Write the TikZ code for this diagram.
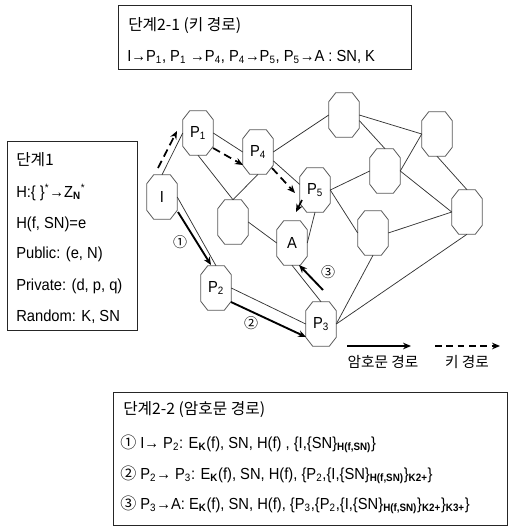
\documentclass[tikz,border=0pt]{standalone}
\usepackage{fontspec}
\setmainfont{Liberation Sans}[FakeStretch=0.92]
\newfontfamily\kr{Noto Sans CJK KR}
\usetikzlibrary{arrows.meta,calc}
\newcommand{\sbb}[1]{\textsubscript{\textbf{#1}}}
\newcommand{\sbn}[1]{\textsubscript{#1}}
\newcommand{\octo}[1]{\draw[octline] ($(#1.north west)+(7,0)$) -- ($(#1.north east)+(-7,0)$) -- ($(#1.north east)+(0,9)$) -- ($(#1.south east)+(0,-9)$) -- ($(#1.south east)+(-7,0)$) -- ($(#1.south west)+(7,0)$) -- ($(#1.south west)+(0,-9)$) -- ($(#1.north west)+(0,9)$) -- cycle;}
\begin{document}
\begin{tikzpicture}[x=0.75pt,y=-0.75pt,
  txt/.style={anchor=base west,inner sep=0pt,font=\fontsize{12}{14}\selectfont},
  krtxt/.style={anchor=base west,inner sep=0pt,font=\kr\fontsize{11.8}{14}\selectfont},
  oct/.style={rectangle,minimum width=22.5pt,minimum height=33pt,inner sep=0pt,font=\fontsize{12}{14}\selectfont},
  octline/.style={draw=black!65,line width=0.6pt,line join=round},
  edge/.style={draw=black!80,line width=0.55pt},
  boxline/.style={draw=black!85,line width=0.7pt},
  keyarrow/.style={line width=1.3pt,dash pattern=on 6pt off 3.6pt,-{Stealth[length=6pt,width=5pt]}},
  cipharrow/.style={line width=1.4pt,-{Stealth[length=6pt,width=5pt]}},
  circnum/.style={inner sep=0pt,font=\kr\fontsize{10.5}{12}\selectfont}
]
\useasboundingbox (0,0) rectangle (510,526);

% ---- boxes
\draw[boxline] (118,5) rectangle (411,69);
\draw[boxline] (7,141) rectangle (137,330);
\draw[boxline] (113,392) rectangle (507,525);

% ---- top box text
\node[krtxt] (t21) at (128,30) {단계2-1 (키 경로)};
\node[txt] (t21a) at (127,61) {I→P\sbn{1}, P\sbn{1} →P\sbn{4}, P\sbn{4}→P\sbn{5}, P\sbn{5}→A : SN, K};

% ---- left box text
\node[krtxt] (s1) at (16,165) {단계1};
\node[txt] (s1a) at (16,197) {H:\{ \}\textsuperscript{*}→Z\sbb{N}\textsuperscript{*}};
\node[txt] (s1b) at (16,228) {H(f, SN)=e};
\node[txt] (s1c) at (16,258) {Public: (e, N)};
\node[txt] (s1d) at (16,290) {Private: (d, p, q)};
\node[txt] (s1e) at (16,321) {Random: K, SN};

% ---- bottom box text
\node[krtxt] (t22) at (123,414) {단계2-2 (암호문 경로)};
\node[txt] (t22a) at (120,448) {{\kr ①} I→ P\sbn{2}: E\sbb{K}(f), SN, H(f) , \{I,\{SN\}\sbb{H(f,SN)}\}};
\node[txt] (t22b) at (120,479) {{\kr ②} P\sbn{2}→ P\sbn{3}: E\sbb{K}(f), SN, H(f), \{P\sbn{2},\{I,\{SN\}\sbb{H(f,SN)}\}\sbb{K2+}\}};
\node[txt] (t22c) at (120,509) {{\kr ③} P\sbn{3}→A: E\sbb{K}(f), SN, H(f), \{P\sbn{3},\{P\sbn{2},\{I,\{SN\}\sbb{H(f,SN)}\}\sbb{K2+}\}\sbb{K3+}\}};

% ---- graph nodes
\node[oct] (I)  at (162,197) {I};
\node[oct] (P1) at (198,133) {P\sbn{1}};
\node[oct] (P4) at (258,152) {P\sbn{4}};
\node[oct] (N1) at (233,222) {};
\node[oct] (P5) at (315,190) {P\sbn{5}};
\node[oct] (A)  at (292,243) {A};
\node[oct] (P2) at (216,288) {P\sbn{2}};
\node[oct] (P3) at (321,324) {P\sbn{3}};
\node[oct] (N2) at (344,115) {};
\node[oct] (N3) at (437,134) {};
\node[oct] (N4) at (385,171) {};
\node[oct] (N5) at (373,233) {};
\node[oct] (N6) at (467,212) {};
\foreach \n in {I,P1,P4,N1,P5,A,P2,P3,N2,N3,N4,N5,N6} {\octo{\n}}

% ---- thin connectors
\draw[edge] (I.north) -- (P1.west);
\draw[edge] (I.east) -- (P2.north);
\draw[edge] (P1.east) -- (P4.west);
\draw[edge] (P1.south) -- (N1.north);
\draw[edge] (P4.south) -- (N1.north);
\draw[edge] (P4.east) -- (N2.west);
\draw[edge] (P4.-30) -- (P5.160);
\draw[edge] (N1.east) -- (A.west);
\draw[edge] (P5.south) -- (A.east);
\draw[edge] (A.south) -- (P3.north);
\draw[edge] (P2.east) -- (P3.west);
\draw[edge] (P5.east) -- (N4.west);
\draw[edge] (P5.east) -- (N5.west);
\draw[edge] (P3.east) -- (N5.south);
\draw[edge] (P3.east) -- (N6.south);
\draw[edge] (N2.east) -- (N3.west);
\draw[edge] (N2.-20) -- (N4.north);
\draw[edge] (N4.east) -- (N3.west);
\draw[edge] (N3.south) -- (N6.north);
\draw[edge] (N4.east) -- (N6.west);
\draw[edge] (N5.east) -- (N6.west);

% ---- key path (dashed) arrows
\coordinate (k1s) at (158,168); \coordinate (k1e) at (177,131);
\coordinate (k2s) at (213,148); \coordinate (k2e) at (243,165);
\coordinate (k3s) at (272,168); \coordinate (k3e) at (295,193);
\coordinate (k4s) at (302,200); \coordinate (k4e) at (296,212);
\draw[keyarrow] (k1s) -- (k1e);
\draw[keyarrow] (k2s) -- (k2e);
\draw[keyarrow] (k3s) -- (k3e);
\draw[line width=1.3pt,-{Stealth[length=6pt,width=5pt]}] (k4s) -- (k4e);

% ---- cipher path (solid) arrows
\coordinate (c1s) at (178,212); \coordinate (c1e) at (211,265);
\coordinate (c2s) at (231,302); \coordinate (c2e) at (306,337);
\coordinate (c3s) at (323,290); \coordinate (c3e) at (299,265);
\draw[cipharrow] (c1s) -- (c1e);
\draw[cipharrow] (c2s) -- (c2e);
\draw[cipharrow] (c3s) -- (c3e);
\node[circnum] (n1) at (180,242) {①};
\node[circnum] (n2) at (251,323) {②};
\node[circnum] (n3) at (328,272) {③};

% ---- legend
\coordinate (l1s) at (347,346); \coordinate (l1e) at (411,346);
\coordinate (l2s) at (435,346); \coordinate (l2e) at (500,346);
\draw[cipharrow] (l1s) -- (l1e);
\draw[keyarrow,dash pattern=on 5pt off 3.5pt] (l2s) -- (l2e);
\node[font=\kr\fontsize{11}{13}\selectfont,inner sep=0pt] (lg1) at (383,362) {암호문 경로};
\node[font=\kr\fontsize{11}{13}\selectfont,inner sep=0pt] (lg2) at (467,362) {키 경로};
\end{tikzpicture}
\end{document}
